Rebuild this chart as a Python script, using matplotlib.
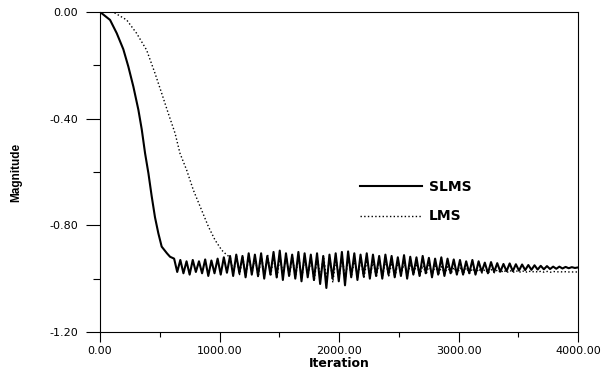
import numpy as np
import matplotlib
matplotlib.use('Agg')
import matplotlib.pyplot as plt
from matplotlib.ticker import MultipleLocator, FormatStrFormatter

plt.rcParams['font.family'] = 'DejaVu Sans'

# SLMS transient
slms_x = [0, 84, 140, 195, 237, 279, 321, 349, 377, 405, 432, 460, 488, 516, 560, 586]
slms_y = [0.0, -0.03, -0.08, -0.14, -0.205, -0.28, -0.367, -0.44, -0.53, -0.605,
          -0.69, -0.77, -0.83, -0.88, -0.905, -0.918]
# SLMS steady-state oscillation: one top and one bottom per cycle
slms_start, slms_period = 620, 52
slms_tops = [-0.925, -0.93, -0.935, -0.93, -0.935, -0.928, -0.932, -0.925, -0.92,
             -0.915, -0.91, -0.915, -0.905, -0.91, -0.905, -0.915, -0.90, -0.895, -0.905,
             -0.91, -0.90, -0.905, -0.91, -0.905, -0.915, -0.91, -0.905, -0.90, -0.898,
             -0.905, -0.91,
             -0.905, -0.91, -0.915, -0.91, -0.915, -0.92, -0.912, -0.918, -0.92, -0.915,
             -0.922, -0.925, -0.92, -0.925, -0.928,
             -0.93, -0.935, -0.93, -0.935, -0.94, -0.938, -0.942, -0.945, -0.943, -0.946,
             -0.947, -0.949, -0.95, -0.952, -0.953, -0.955, -0.955, -0.956, -0.957]
slms_bots = [-0.975, -0.98, -0.985, -0.975, -0.98, -0.99, -0.98, -0.985, -0.978,
             -0.99, -0.98, -0.995, -0.985, -0.99, -1.0, -0.985, -0.995, -1.005, -0.99,
             -1.0, -1.01, -0.995, -1.005, -1.02, -1.035, -1.0, -1.01, -1.025, -0.995,
             -1.005, -0.99,
             -1.0, -0.99, -1.0, -0.985, -0.995, -0.99, -1.0, -0.985, -0.99, -0.98,
             -0.995, -0.985, -0.99, -0.98, -0.985,
             -0.985, -0.98, -0.985, -0.975, -0.98, -0.975, -0.974, -0.972, -0.972, -0.97,
             -0.968, -0.967, -0.966, -0.965, -0.964, -0.963, -0.962, -0.961, -0.96]
slms_end = -0.958

# LMS transient
lms_x = [0, 109, 223, 306, 390, 460, 516, 571, 628, 669, 725, 781, 850, 907, 962, 1018, 1060]
lms_y = [0.0, 0.0, -0.03, -0.08, -0.143, -0.23, -0.305, -0.38, -0.455, -0.53, -0.593,
         -0.668, -0.743, -0.805, -0.855, -0.893, -0.911]
lms_start, lms_period = 1090, 52
lms_tops = [-0.92, -0.915, -0.92, -0.915, -0.92, -0.915, -0.91, -0.915, -0.92, -0.915,
            -0.92, -0.915, -0.92, -0.925, -0.92,
            -0.915, -0.92, -0.925, -0.92, -0.925, -0.93, -0.925, -0.93, -0.935, -0.93,
            -0.935, -0.94, -0.935, -0.94, -0.945,
            -0.945, -0.95, -0.95, -0.952, -0.955, -0.955, -0.958, -0.96, -0.96, -0.962,
            -0.963, -0.965, -0.966,
            -0.967, -0.968, -0.969, -0.97, -0.97, -0.971, -0.972, -0.972, -0.973, -0.973,
            -0.974, -0.974, -0.975]
lms_bots = [-0.98, -0.985, -0.99, -0.98, -0.995, -0.985, -0.99, -1.0, -0.985, -0.99,
            -0.995, -1.0, -0.99, -1.01, -0.995,
            -1.0, -1.015, -0.995, -1.0, -0.99, -0.995, -1.0, -0.99, -0.995, -0.99,
            -0.99, -0.995, -0.985, -0.99, -0.985,
            -0.99, -0.985, -0.983, -0.985, -0.982, -0.983, -0.98, -0.981, -0.98, -0.98,
            -0.979, -0.979, -0.978,
            -0.978, -0.978, -0.977, -0.977, -0.977, -0.976, -0.976, -0.976, -0.976,
            -0.975, -0.975, -0.975, -0.975]
lms_end = -0.975


def build(tx, ty, start, period, tops, bots, end):
    xs, ys = list(tx), list(ty)
    for i, (t, b) in enumerate(zip(tops, bots)):
        x0 = start + i * period
        xs += [x0, x0 + period * 0.5]
        ys += [t, b]
    xs.append(4000)
    ys.append(end)
    return np.array(xs), np.array(ys)


sx, sy = build(slms_x, slms_y, slms_start, slms_period, slms_tops, slms_bots, slms_end)
lx, ly = build(lms_x, lms_y, lms_start, lms_period, lms_tops, lms_bots, lms_end)

fig = plt.figure(figsize=(6.04, 3.73), dpi=100)
ax = fig.add_axes([0.1656, 0.11, 0.7914, 0.858])

ax.plot(sx, sy, '-', color='black', lw=1.5, label='SLMS')
ax.plot(lx, ly, ':', color='black', lw=1.0, label='LMS')

ax.set_xlim(0, 4000)
ax.set_ylim(-1.2, 0)
ax.xaxis.set_major_locator(MultipleLocator(1000))
ax.xaxis.set_minor_locator(MultipleLocator(500))
ax.yaxis.set_major_locator(MultipleLocator(0.4))
ax.yaxis.set_minor_locator(MultipleLocator(0.2))
ax.xaxis.set_major_formatter(FormatStrFormatter('%.2f'))
ax.yaxis.set_major_formatter(FormatStrFormatter('%.2f'))
ax.tick_params(axis='x', which='major', direction='out', length=7, width=0.8,
               labelsize=8, pad=3)
ax.tick_params(axis='x', which='minor', direction='out', length=3.5, width=0.8)
ax.tick_params(axis='y', which='major', direction='out', length=10, width=0.8,
               labelsize=8, pad=6)
ax.tick_params(axis='y', which='minor', direction='out', length=5, width=0.8)
for s in ax.spines.values():
    s.set_linewidth(0.8)

ax.set_xlabel('Iteration', fontweight='bold', fontsize=9)
ax.xaxis.set_label_coords(0.5, -0.078)
ax.set_ylabel('Magnitude', fontweight='bold', fontsize=8.5, family='Liberation Sans')
ax.yaxis.set_label_coords(-0.163, 0.5)

leg = ax.legend(loc='upper left', bbox_to_anchor=(0.596, 0.517),
                bbox_transform=fig.transFigure, frameon=False, borderpad=0,
                borderaxespad=0, handlelength=4.5, handletextpad=0.45,
                labelspacing=1.1, prop={'weight': 'bold', 'size': 10})

fig.savefig('out.png', dpi=100)
